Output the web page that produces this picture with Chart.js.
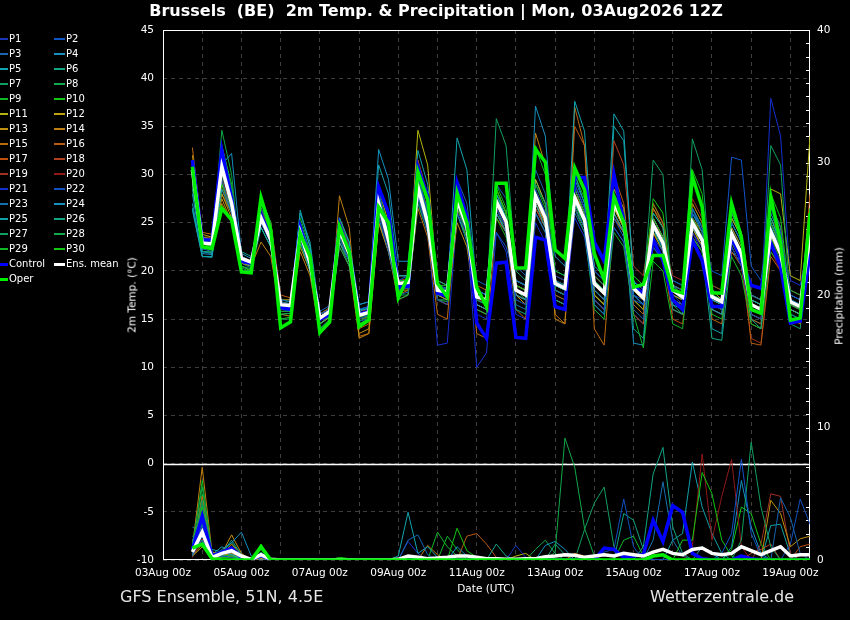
<!DOCTYPE html>
<html>
<head>
<meta charset="utf-8">
<title>Brussels GFS Ensemble</title>
<script src="https://cdn.jsdelivr.net/npm/chart.js@4.4.1/dist/chart.umd.min.js"></script>
<style>
  body { margin: 0; background: #000; font-family: 'DejaVu Sans', sans-serif; color: #fff; }
  #wrap { position: relative; width: 850px; height: 620px; overflow: hidden; background: #000; }
  #chart { position: absolute; left: 0; top: 0; }
  .txt { position: absolute; white-space: pre; }
  #title { left: 436px; top: 1px; transform: translateX(-50%); font-size: 16px; font-weight: bold; line-height: 20px; }
  #foot-left { left: 120px; top: 587px; font-size: 16px; line-height: 20px; color: #e6e6e6; }
  #foot-right { left: 650px; top: 587px; font-size: 16px; line-height: 20px; color: #e6e6e6; }
  #xtitle { left: 486px; top: 582px; transform: translateX(-50%); font-size: 10.5px; line-height: 13px; }
  .ytitle { font-size: 10.5px; line-height: 13px; transform: translate(-50%, -50%) rotate(-90deg); }
  #ytitle-left { left: 132px; top: 295px; }
  #ytitle-right { left: 839px; top: 296px; }
  .leg-line { position: absolute; }
  .leg-text { position: absolute; font-size: 10px; line-height: 14px; white-space: nowrap; }
</style>
</head>
<body>
<div id="wrap">
  <canvas id="chart" width="850" height="620"></canvas>
  <div class="txt" id="title">Brussels  (BE)  2m Temp. &amp; Precipitation | Mon, 03Aug2026 12Z</div>
  <div class="txt ytitle" id="ytitle-left">2m Temp. (°C)</div>
  <div class="txt ytitle" id="ytitle-right">Precipitation (mm)</div>
  <div class="txt" id="xtitle">Date (UTC)</div>
  <div class="txt" id="foot-left">GFS Ensemble, 51N, 4.5E</div>
  <div class="txt" id="foot-right">Wetterzentrale.de</div>
  <div id="legend"></div>
</div>
<script>
// forecast hours since 03Aug 00z (run 03Aug 12Z, 6-hourly steps)
const hours = [18,24,30,36,42,48,54,60,66,72,78,84,90,96,102,108,114,120,126,132,138,144,150,156,162,168,174,180,186,192,198,204,210,216,222,228,234,240,246,252,258,264,270,276,282,288,294,300,306,312,318,324,330,336,342,348,354,360,366,372,378,384,390,396];

const xTickLabels = ['03Aug 00z','05Aug 00z','07Aug 00z','09Aug 00z','11Aug 00z','13Aug 00z','15Aug 00z','17Aug 00z','19Aug 00z'];

const memberNames = ['P1','P2','P3','P4','P5','P6','P7','P8','P9','P10','P11','P12','P13','P14','P15',
  'P16','P17','P18','P19','P20','P21','P22','P23','P24','P25','P26','P27','P28','P29','P30'];

const memberColors = ['#1a35b8','#0f55c8','#1565b0','#1590c0','#10a5b0','#10a585','#10a060','#10a848','#10b828','#10c810',
  '#b5b510','#c0a010','#c09010','#c08010','#c06a10','#b85a10','#c05010','#b04020','#a03020','#901818',
  '#1530d0','#1050c0','#1570b0','#1590c0','#10a0a8','#10a585','#10a060','#10a848','#10b828','#10c810'];

const controlColor = '#0000ff';
const meanColor = '#ffffff';
const operColor = '#00ee00';

// 2m temperature (deg C)
const meanTemp = [30.5,22.9,22.8,30.8,27.0,21.3,20.9,25.5,23.2,16.5,16.4,24.0,20.8,15.1,15.8,24.2,21.8,15.4,15.7,27.0,23.2,18.7,18.8,28.7,25.0,18.0,17.8,27.4,24.6,17.3,17.0,27.2,25.1,18.0,17.5,27.8,25.5,18.7,18.2,27.6,25.3,18.7,17.7,27.0,25.0,18.2,17.2,24.8,22.9,18.0,17.3,25.0,23.2,17.3,16.8,23.9,21.8,16.5,16.0,24.1,21.8,16.8,16.3,23.8];
const controlTemp = [31.5,23.2,23.2,32.5,27.5,21,20.8,25.8,23.5,16.2,16,24.5,21,15,15.5,24.8,22,15.5,15.8,28.7,26,18.3,18.4,30.8,27.7,17.7,17.4,29.1,25.6,14.6,13,20.8,20.9,13.1,13,23.5,23.2,16.3,16,29.7,29.7,23,21,30,25,18.3,17.7,23.2,21.1,17,16,23.2,21.1,16.3,16.3,23.5,21.1,18.5,18.2,22.9,20.4,14.6,14.8,21.8];
const operTemp = [30.8,22.5,22.3,26.5,25.3,19.9,19.8,27.6,24.2,14.1,14.7,23.9,21.5,13.6,14.7,24.6,22,14.2,14.9,26.6,25,17.2,19.4,30.3,27.4,18.7,17.3,28.1,25,18.3,16.3,29.1,29.1,20.3,20.3,32.6,31.3,22.2,21.3,30.7,28.4,21.8,19.1,27.7,25,18.3,18.6,21.6,21.6,18,17.7,29.8,26.6,17.7,17.7,27,23.5,16,15.6,27.7,22.9,14.9,15.1,26];

const memberTemp = [
  [31,23,22.8,31.5,27.5,21,20.7,25,22.8,16,16.2,24.5,21,15.5,16,25,22,15,15.5,26,22.5,18,18.5,27.5,24,17,16.5,26,24,15.5,15,26.5,24.5,17,16.5,28.5,26,19.5,19,29,26.5,20,19,28,26,19,18,23.5,22,17.5,16.5,24,22.5,16.5,16,22.5,20.5,15.5,15,23,21,17,16.5,24.5],
  [30,22.5,22.3,30.5,26.5,21.5,21,26,23.5,17,16.8,23.5,20.5,14.8,15.5,23.5,21,16,16.3,28,24,19,19.5,30,26,18.5,18,28.5,25.5,18,17.5,24,22.5,19,18.5,26,24,18,17.5,26.5,24.5,17,16,25.5,23.5,17,16.5,25,23,18.5,18,26,24.5,20,19.5,31.8,31.5,20.5,19,26.5,24,17.5,17,25],
  [29.5,23.5,23.2,29.5,26,21.2,20.8,26.5,24.5,16.8,16.5,25,22,15.8,16.4,24,22.5,14.8,15,25.5,22,17.5,17.8,28,24.5,18.5,18.2,29.5,27,19,18.5,29,27.5,20.5,19.5,30.5,28,19,18.5,26,24,16.5,15.5,24.5,23,16,15,22.5,21,17,16.5,26.5,24,18,17.5,25,23,17.5,17,27,24.5,15.5,15,22],
  [28,22,21.8,31,32.2,21.8,21.3,25,23,16.2,16,23,20,15,15.5,23,21,16.5,16.8,32.6,29.5,21,21,29,26.5,18,17.5,26,23,16.5,16,26,24,17.5,17,37.1,34,21.5,20.5,30,27,18,17,26,24,17.5,16.5,23,21.5,16.5,16,24.5,23,17,16.5,24,22,16,15.5,26,23.5,17.5,17,26],
  [26.5,21.5,21.5,28.5,26,21,20.5,24.5,22.5,16.5,16.3,26.3,22.5,14.5,15.3,25.5,23,15.8,16.2,27,23.5,19.5,19.5,29,25.5,18.5,18,33.8,30.5,18,17.5,28,25.5,19,18.5,27,24.5,18.5,18,37.6,34.5,20,19,36.3,34.5,19,17.5,26,24.5,17,16,25,23,16,15.5,23,21.5,17,16.5,25.5,23,16,15.5,24],
  [30,23,22.6,31.5,28,22,21.5,25,23,16.5,16.5,24,21.5,15.5,16,24,21.5,16,16,27.5,24,18,18.5,28,25,19,18.5,27,24.5,17.5,17,27.5,25.5,16,15.5,26,24,17,16.5,27,25,16.5,15.5,27.5,25,14,13,24.5,22,16,15.5,26,24,17,16.5,26,23.5,15,14,24.5,22,17,16.5,25],
  [29,22,22,30,27,20.5,20.2,27,24.5,15.5,15.6,23.5,20.5,14,15,22.5,20.5,15,15.3,26.5,23,18.5,18.5,30,26,17.5,17.5,27,24,17,16.5,35.8,33,20,19,29,27,19,18.5,28.5,26,19.5,18.5,27,25,19,18,31.5,30,16.5,15.5,33.7,30.5,17.5,17,22.5,20.5,16,15.5,33,31,16.5,16,24.5],
  [30.5,22.5,22.5,34.6,30,20,20,27.5,25,15.8,15.8,25,22,15,15.8,24.5,22,15.5,15.8,26,23,17,17.5,27,24,17,16.8,26.5,24,16,15.5,28,25.5,18,17,28,25.5,18.5,18,27,24.5,19,18,27.5,25.5,18.5,17.5,25.5,23.5,18.5,17.5,25.5,23.5,17.5,17,23,21,17,16.5,25,22.5,18,17.5,24.5],
  [31.5,23.2,23,33,28.5,21.5,21,24.5,22.5,15,15.2,23,20,13.8,14.5,23.5,21,14.5,15,28,24.5,19,19,27.5,24.5,18.5,18.5,26,23.5,18,17.5,25.5,23.5,19,18.5,32.8,30,20,19.5,26.5,24,16,15,24,22.5,15.5,12,21,20,14.5,14,23.5,22,15.5,15,21.5,19.5,14.5,14,22,20.5,15.5,15,23],
  [30,22.8,22.5,29,26.5,20.5,20,26,24,17,16.8,24.5,21.5,15.5,16,24.5,22,15.2,15.5,27,23.5,18.5,18.8,29.5,26,17.5,17.5,27.5,25,17.5,17,28.5,26,18.5,18,28,25.5,18,17.5,27,25,19,18,28,26,19.5,18.5,27.5,26,18,17.5,25,23,16.5,16,24,22,16,15.5,23.5,21,17,16.5,26.5],
  [30,23.5,23.3,29,26.5,21.5,21,25.5,23.5,17,17,24,21,15.5,16,24,21.5,15.5,15.8,28.5,25,18.5,18.5,34.6,31,18,17.5,26,23.5,16.5,16,27,25,17.5,17,29.5,27,18,17.5,27,25,17.5,16.5,26.5,24.5,18,17,25.5,23.5,18.5,18,24.5,22.5,18,17,23,21,16.5,16,28.5,28,19.5,19,34],
  [31.5,23.8,23.5,28,25.5,21,20.5,26,24,16,16,22.5,20,14.5,15.2,24.5,22,15.2,15.5,26.5,23,19,19,28,25,17.5,17,27,24,17.5,17,27,25,18,17.5,27,25,18.5,18,28.5,26,19,18,26,24,18,17,24,22,17.5,17,24.5,22.5,17,16.5,25.5,23.5,17,16.5,24,22,16,15.5,22],
  [32,23.5,23,27.5,25,20.5,20,25,23,16.5,16.2,24,21,15.5,16,23,21,13.5,14,25,22,17,17.5,27.5,24.5,17,16.5,25,22.5,16,15.5,27.5,25.5,17.5,16.5,28,25.5,17,16.5,26.5,24.5,18.5,17.5,26.5,24.5,17,16,25.5,23.5,18.5,18,25.5,23.5,16.5,16,24.5,22.5,15.5,15,25,22.5,16.5,16,22.5],
  [30.5,23,22.8,27,25,20.8,20.5,23,21.5,15.5,15.3,22,19.5,13.5,14.5,27.8,24.5,13,13.5,25,22,18,18,29,26,18,18,28,25,17.5,17,28.5,26,19,18.5,34.3,31,15,14.5,28,26,17.5,16.5,28.5,26.5,18.5,17.5,26.5,24.5,17,16.5,25.5,24,18,17.5,26,24,17.5,17,27,24.5,16.5,16,25],
  [32.8,24,23.8,28,26,21,20.5,25.5,23.5,16,16,23.5,20.5,15,15.5,22.5,20.5,13.2,13.5,26,23,17.5,18,26.5,23.5,15.5,15,26.5,24,13.5,13,25.5,24,16,15,26,24,15.5,14.5,37,33,14,12.3,25.5,24,16.5,15.5,24,22,16,15.5,27,25,15,14.5,24,22,14.5,14,23.5,21.5,15,14.5,23],
  [31,23.5,23.5,28.5,26,21.3,21,27,25,17.5,17.2,24.5,21.5,15,15.7,23.5,21.5,14,14.5,27.5,24.5,19.5,19.5,31.5,28,19,18.5,28,25.5,18.5,18,26,24,18.5,18,27,24.5,18,17.5,35,33,19.5,18.5,30,27,18,17,27,25,18,17.5,25,23,17,16.5,24,22,12.5,12.3,21.5,20,16,15.5,28],
  [29,22.8,22.5,29.5,26.5,21.5,21,25,23,16.8,16.5,24.5,21,15.5,16.2,24.5,22,15.5,15.8,26,23,18,18.3,28.5,25,17,16.5,27.5,25,16.5,16,27,25,17.5,17,27.5,25.5,18.5,18,26.5,24.5,17,16,25.5,24,15.5,14.5,23,21.5,15,14.5,23.5,22,16,15.5,22,20.5,15,14.5,25.5,23.5,18,17.5,25.5],
  [30,23,22.8,30.5,27,21,20.6,25.5,23,16.3,16.2,24,21,15.3,15.8,25.5,22.5,15,15.2,27.5,24,18.5,18.5,29.5,26.5,18.5,18,29,26,17.5,17,27.5,25.5,18.5,18,26.5,24.5,17.5,17,28.5,26,19,18,33.5,31,20.5,19.5,26.5,25,17,16.5,24,22.5,16.5,16,23.5,21.5,16.5,16,24,21.5,16,15.5,24],
  [29.5,22.5,22.3,29,26,21.5,21,26.5,24,16.5,16.4,24,20.5,14.5,15.5,24.5,21.5,15.8,16,26,22.5,19,19.2,28,25,18,18,26.5,24,17.5,17,26.5,24.5,18,17.5,26.5,24.5,19,18.5,26.5,24.5,18,17,25.5,24,18,17,25,23.5,19.5,19,27.5,25.5,18.5,18,22.5,20.5,13,12.5,22,20.5,16,15.5,23],
  [30,23,22.8,30,26.5,21,20.8,26,23.5,16.5,16.5,24.5,21.5,15.5,16,24,21.5,15.5,15.8,27,23.5,19,19,28.5,25.5,18.5,18,27.5,25,17,16.8,27.5,25,18,17.5,27.5,25,19.5,19,27.5,25,19.5,18.5,26.5,24.5,19,18,24.5,23,18.5,18,24.5,22.5,17.5,17,23.5,21.5,17,16.5,22,20,17.5,17,24.5],
  [31.5,23.2,23,32,28,21.2,20.8,25,23,16.5,16.2,23.5,20.5,15,15.5,24,21.5,15.5,15.8,27,23,18.5,18.5,28,24.5,12.3,12.5,26,24,10,11.5,24,22,15.5,15,25,23,17,16.5,25.5,23.5,17,16,24.5,23,15.5,14.5,22.5,21,16,15.5,24,22,16,15.5,23,21,16.5,16,37.9,34,19,18.5,24],
  [30.5,23,22.7,30.5,28.5,21,20.5,25.5,23.5,16,15.9,24,21,15,15.6,24.5,22,15.5,15.9,27.5,23.5,18.5,18.8,29,25.5,17.5,17,28,25,17,16.5,27,25,17.5,17,28,25.5,18.5,18,27.5,25,18,17,26.5,24.5,17.5,17,25,23,19,18.5,26,24,17.5,17,24.5,22.5,16,15.5,24.5,22.5,16.5,16,23],
  [29,22.3,22,31,27.5,21,20.5,25.5,23.5,16.5,16.3,24,21,15.5,16,24,21.5,16,16.3,26.5,23,18.5,18.5,28.5,25,17.5,17,27,24.5,17,16.5,26.5,24.5,16.5,16,27,25,18,17.5,29,26.5,18.5,17.5,27,25,17.5,16.5,24,22.5,18.5,17.5,24.5,22.5,16,15.5,23,21,17.5,17,24,22,17,16.5,24],
  [27,21.8,21.7,29.5,26,21.5,21,26.5,24,17,16.8,25,22,15.5,16.2,25,23,16.5,16.8,27.5,24,19.5,19.5,29,26,18.5,18,28,25.5,18,17.5,28,26,19,18.5,29.5,27,20,19.5,29,26.5,20.5,19.5,28.5,26.5,12.5,12.3,24,23,18,17,26.5,24.5,18,17.5,25,23,17.5,17,25,23,17.5,17,24.5],
  [26.3,21.5,21.4,30,27.5,21.3,20.8,25,23,16.5,16.5,26,23,15.5,16,24,22,16,16.3,31,28,19.5,19.5,32.5,29,19,18.5,28.5,26,18,17.5,26,24,18.5,18,26.5,24.5,19,18.5,29.5,27,16.5,15.5,35,33.5,19,18,25,23.5,17.5,17,26.5,24.5,14,13.5,25.5,23.5,15,14.5,25,22.5,17,16.5,25],
  [28.5,22.5,22.3,31.5,28,20.8,20.3,25.5,23.5,16.8,16.6,24,21,15.2,15.8,23.5,21,15.5,15.8,26.5,23,18.5,18.7,28,24.5,18,18,27.5,25,17.5,17,26.5,24.5,18.5,18,28.5,26,19,18.5,27,25,19,18,26.5,24.5,19.5,18.5,24.5,23,19,18.5,23.5,22,13,12.8,22,21,15.5,15,23.5,21.5,15.5,15,22.5],
  [30,22.5,22.4,30,27,20.3,19.9,24.5,22.5,15,15,23,20,14,14.8,23,20.5,14.5,15,25.5,22,17.5,17.5,27,24,17,17,26,23.5,16.5,16,26.5,24,17,16.5,27.5,25,18.5,18,28,25.5,18,17,26,24,18.5,17.5,24.5,22.5,18,17.5,25.5,23.5,17,16.5,24,22,16.5,16,24.5,22,14.5,14,23.5],
  [29.5,22,21.9,29,26,20.5,20,26,24,16,15.9,25,22,14.5,15.2,24.5,22,15,15.3,28,24.5,18,18.2,29,25.5,18,18,27,24.5,17.5,17,27,25,18,17.5,28,25.5,19.5,19,28.5,26,19,18,27,25,17,16,25.5,23.5,17.5,17,25,23,18.5,18,24.5,22.5,17.5,17,24.5,22.5,16.5,16,23.5],
  [30.8,22.8,22.6,33,29,20,19.8,26.5,24,15.5,15.6,25.5,22.5,14.5,15.2,25,22.5,14.8,15.2,27.5,24,18,18.5,30.5,27,17.5,17.5,28.5,25.5,17,16.5,29,26.5,18,17.5,29,26.5,17.5,17,28,25.5,17.5,16.5,27.5,25.5,17,16,27,25,17,16.5,27,25,17.5,17,25,23,17,16.5,25.5,23,16,15.5,23],
  [30.5,22.5,22.3,32,28.5,20,19.8,27.5,25,16,16,24.5,21.5,14,14.8,25.5,23,15,15.4,27.5,24,19,19,29.5,26,18,17.5,28.5,25.5,17.5,17,28.5,26,18.5,18,33,31,19,18.5,30,27.5,18,17,28,26,19,18,26,24.5,18,17.5,30.5,28,17.5,17,25.5,23.5,17,16.5,28,25.5,17,16.5,26.5]
];

// 6-hourly precipitation (mm)
const meanPrecip = [0.6,2.1,0.2,0.5,0.7,0.3,0.05,0.4, 0.05,0,0,0,0,0,0,0.02, 0,0,0,0,0,0.05,0.3,0.2, 0.1,0.15,0.2,0.3,0.3,0.2,0.1,0.1, 0.05,0.05,0.1,0.1,0.25,0.3,0.4,0.35, 0.2,0.3,0.4,0.3,0.5,0.4,0.3,0.6, 0.8,0.5,0.4,0.8,0.9,0.5,0.4,0.5, 1.0,0.7,0.4,0.7,1.0,0.3,0.4,0.4];
const controlPrecip = [0.8,3.3,0.3,0.6,0.9,0.2,0,0.4, 0,0,0,0,0,0,0,0, 0,0,0,0,0,0,0,0, 0,0,0,0,0,0,0,0, 0,0,0,0,0,0,0,0, 0,0,0.9,0.8,0.2,0.3,0.4,3.0, 1.4,4.1,3.6,0.5,0.1,0,0,0, 0.3,0.1,0,0,0,0,0,0];
const operPrecip = [0.9,1.2,0.1,0,0,0,0,1.0, 0,0,0,0,0,0,0,0, 0,0,0,0,0,0,0,0, 0,0,0,0,0,0,0,0, 0,0,0,0,0,0,0,0, 0,0,0,0,0,0,0,0.3, 0.4,0,0,0,0,0,0,0, 0,0,0,0,0,0,0,0];

const memberPrecip = [
  [0.5,2.5,0.3,0.4,0.6,0.2,0,0.2, 0,0,0,0,0,0,0,0, 0,0,0,0,0,0,0,0, 0,0,0,0,0,0,0,0, 0,1.1,0.2,0,0,0,0,0, 0,0,0,0,0,0,0,0, 0,0,0,0,0,0,0,0, 0,0,0,0,0,0,0,0],
  [0.3,1.8,0.2,0.3,0.2,0,0,0.3, 0,0,0,0,0,0,0,0, 0,0,0,0,0,0,0,0, 0,0,0,0,0,0,0,0, 0,0,0,0,0,0,0,0, 0,0,0,0,0,0,0,0, 0,0,0,0,0,0,0.5,2.0, 7.6,2.0,0.3,0,0,0,0,0],
  [1.5,2.8,0.4,0.5,1.0,0.3,0,0.2, 0,0,0,0,0,0,0,0, 0,0,0,0,0,0,1.5,1.9, 0.4,0,0,0,0,0,0,0, 0,0,0,0,0,0,0,0, 0,0,0,0,0,0,0,0, 0,0,0,0,0,0,0,0, 0,0,0,0,4.7,3.2,0.5,0],
  [0.6,1.5,0.2,0.8,1.3,2.1,0.3,0, 0,0,0,0,0,0,0,0, 0,0,0,0,0,0,0,0, 0,0,0,1.0,0.3,0,0,0, 0,0,0,0,0,0,0,0, 0,0,0,0,0,0,0,0, 0,0,0,0,0,0,0,0, 0,0,0,0,0,0,0,0],
  [0.9,2.0,0.8,0.6,0.4,0.1,0,0.3, 0,0,0,0,0,0,0,0, 0,0,0,0,0,0.3,3.6,0.5, 1.0,0.2,0,0,0,0,0,0, 0,0,0,0,0,0,0,0, 0,0,0,0,0,0,0,0, 0,0,0,0,1.0,0.5,0,0, 0,0,0,0,0,0,0,0],
  [0.4,3.5,0.3,0.5,1.5,0.4,0,0.5, 0,0,0,0,0,0,0,0, 0,0,0,0,0,0,0,0, 0,0,0,0,0,0,0,1.2, 0.3,0,0,0,0,0,0,0, 0,0,0,0,0,0,1.0,6.5, 8.5,2.5,0.5,0,0,0,0,0, 0,0,0,0,0,0,0,0],
  [0.7,4.5,0.2,0.3,0.8,0.2,0,0.3, 0,0,0,0,0,0,0,0, 0,0,0,0,0,0,0,0, 0,0,0,0,0,0,0,0, 0,0,0,0,0,0,0,0, 0,0,0,0,0,0,0,0, 0,0,0,0,0,0,0,0, 1.5,8.9,4.0,1.0,0,0,0,0],
  [1.2,5.5,0.5,0.2,0.4,0.1,0,0.6, 0,0,0,0,0,0,0,0, 0,0,0,0,0,0,0,0, 0,0,0,0,0,0,0,0, 0,0,0,0,0,0.6,9.2,7.0, 2.4,0.3,0,0,0,0,0,0, 0,0,0,0,0,0,0,0, 0,0,0,0,0,0,0,0],
  [0.8,6.0,0.4,0.4,0.3,0,0,0.8, 0,0,0,0,0,0,0,0, 0,0,0,0,0,0,0,0, 0,2.1,1.0,0.3,0,0,0,0, 0,0,0,0,0,0,0,0, 0,0,0,0,0,0,0,0, 0,0,0,0,0,0,0,0, 0,0,0,0,0,0,0,0],
  [0.5,4.0,0.3,0.2,0.2,0,0,1.1, 0,0,0,0,0,0,0,0.2, 0.1,0,0,0,0,0,0,0, 0,0,0,2.4,0.7,0.2,0,0, 0,0,0,0,0,0,0,0, 0,0,0,0,0,0,0,0, 0,0,1.5,1.5,6.6,5.0,1.5,0.3, 0,0,0,0,0,0,0,0],
  [0.3,1.0,0.1,0.2,0.3,0,0,0.1, 0,0,0,0,0,0,0,0, 0,0,0,0,0,0,0,0, 0,0,0,0,0,0,0,0, 0,0.3,0.5,0,0,0,0,0, 0,0,0,0,0,0,0,0, 0,0,0,0,0,0,0,0, 0,0,0,0,0,0,0,0],
  [0.4,2.2,0.2,0.3,0.5,0.2,0,0.2, 0,0,0,0,0,0,0,0, 0,0,0,0,0,0,0,0, 0,0,0,0,0,0,0,0, 0,0,0,0,0,0,0,0, 0,0,0,0,0,0,0,0, 0,0,0,0,0,0,0,0, 0,0,0,0,0,0,0,0],
  [0.6,3.0,0.3,0.5,1.9,0.5,0,0.3, 0,0,0,0,0,0,0,0, 0,0,0,0,0,0,0,0, 0,0,0,0,0,0,0,0, 0,0,0,0,0,0,0,0, 0,0,0,0,0,0,0,0, 0,0,0,0,0,0,0,0, 0,0,0,4.5,3.5,1.0,1.6,1.8],
  [1.0,7.0,0.6,0.4,1.2,0.3,0,0.2, 0,0,0,0,0,0,0,0, 0,0,0,0,0,0,0,0, 1.1,0.4,0,0,0,0,0,0, 0,0,0,0,0,0,0,0, 0,0,0,0,0,0,0,0, 0,0,0,0,0,0,0,0, 0,0,0,0,0,0,0,0],
  [0.4,4.8,0.3,0.3,0.6,0.1,0,0.2, 0,0,0,0,0,0,0,0, 0,0,0,0,0,0,0,0, 0,0,0,0,0,0,0,0, 0,0,0,0,0,0,0,0.5, 0.3,0,0,0,0,0,0,0, 0,0,0,0,0,0,0,0, 0,0,0,0,0,0,0,0],
  [0.5,2.0,0.2,0.2,0.4,0,0,0.1, 0,0,0,0,0,0,0,0, 0,0,0,0,0,0,0,0, 0,0,0,0,1.8,2.0,1.2,0.2, 0,0,0,0,0,0,0,0, 0,0,0,0,0,0,0,0, 0,0,0,0,0,0,0,0, 0,0,0,0,0,0,0,0],
  [0.3,1.2,0.1,0.6,0.8,0.2,0,0, 0,0,0,0,0,0,0,0, 0,0,0,0,0,0,0,0, 0,0,0,0,0,0,0,0, 0,0,0,0,0,0,0,0, 0,0,0,0,0,0,0,0, 0,0,0,0,0,0,0,0, 0,0,0,0,0,0,1.0,1.2],
  [0.7,3.8,0.4,0.5,0.9,0.3,0,0.2, 0,0,0,0,0,0,0,0, 0,0,0,0,0,0,0,0, 0,0,0,0,0,0,0,0, 0,0,0,0,0,0,0,0, 0,0,0,0,0,0,0,0, 0,0,0,0,0,0,0,0, 0,0.5,0.8,1.2,0,0,0,0],
  [0.2,1.6,0.2,0.3,0.2,0,0,0.1, 0,0,0,0,0,0,0,0, 0,0,0,0,0,0,0,0, 0,0,0,0,0,0,0,0, 0,0,0,0,0,0,0,0, 0,0,0,0,0,0,0,0, 0,0,0,0,0,0,0,0, 0,0,1.2,5.0,4.8,0.5,0,0],
  [0.4,2.4,0.2,0.2,0.3,0.1,0,0.1, 0,0,0,0,0,0,0,0, 0,0,0,0,0,0,0,0, 0,0,0,0,0,0,0,0, 0,0,0,0,0,0,0,0, 0,0,0,0,0,0,0,0, 0,0,0,1.0,8.0,1.5,4.8,7.6, 1.0,0,0,0,0,0,0,0],
  [0.6,3.0,0.5,0.3,0.5,0.2,0,0.4, 0,0,0,0,0,0,0,0, 0,0,0,0,0,0,1.4,0.5, 0,0,0,0,0,0,0,0, 0,0,0,0,0,0,0,0, 0,0,0,0,0,0,0,0, 0,0,0,0,0,0,0,0, 0,0,0,0,0,0,0,0],
  [0.8,1.4,0.2,0.4,0.7,0.1,0,0.3, 0,0,0,0,0,0,0,0, 0,0,0,0,0,0,0,0, 0,0,0,0,0,0,0,0, 0,0,0,0,0,0,0,0, 0,0,0.6,0.8,4.6,1.0,0,0, 0,0,0,0,0,0,0,0, 0,0,0,0,0,1.2,4.6,2.7],
  [2.5,2.0,0.3,0.3,0.6,0.3,0,0.2, 0,0,0,0,0,0,0,0, 0,0,0,0,0,0,0,0, 0,0,0,0,0,0,0,0, 0,0,0,0,0,0,0,0, 0,0,0,0,0,0,0,1.5, 5.9,1.5,0.3,0,0,0,0,0, 0,0,0,0,0,0,0,0],
  [1.8,1.2,0.6,0.5,0.4,0.2,0,0.2, 0,0,0,0,0,0,0,0, 0,0,0,0,0,0,0,0, 0,0,0,0,0,0,0,0, 0,0,0,0,1.1,1.4,0.8,0, 0,0,0,0,0,0,0,0, 0,0,0,0,0,0,0,1.0, 6.0,2.5,0.5,0,0,0,0,0],
  [0.6,2.6,0.4,1.0,0.6,0.2,0,0.4, 0,0,0,0,0,0,0,0, 0,0,0,0,0,0,0,0, 0,0,0,0,0,0,0,0, 0,0,0,0,0,0,0,0, 0,0,0,0,0,0,0,0, 0,1.5,2.0,7.4,4.0,2.0,0.5,0, 0,0,0,2.6,2.7,0.4,0,0],
  [1.4,3.2,0.3,0.6,1.3,0.4,0,0.3, 0,0,0,0,0,0,0,0, 0,0,0,0,0,0,0,0, 0,0,0,0,0,0,0,0, 0,0,0,0,0,1.2,0.4,0, 0,0,0,0,3.5,3.0,0.8,0, 0,0,0,0,0,0,0,0, 0,0,0,0,0,0,0,0],
  [0.5,4.2,0.3,0.2,0.3,0,0,0.5, 0,0,0,0,0,0,0,0, 0,0,0,0,0,0,0,0, 0,0,0,0,0,0,0,0, 0,0,0,0,0,0,0,0, 2.3,4.3,5.5,1.0,0.2,0,0,0, 0,0,0,0,0,0,0,0, 0,0,0,0,0,0,0,0],
  [0.3,2.8,0.2,0.3,0.4,0.1,0,0.4, 0,0,0,0,0,0,0,0, 0,0,0,0,0,0,0,0, 0,0,0,0,0,0,0,0, 0,0,0,0.8,1.5,0.5,0,0, 0,0,0,0,0,0,0,0, 0,0,0,0,0,0,0,0, 0,0,0,0,0,0,0,0],
  [0.6,5.0,0.4,0.3,0.5,0.2,0,0.9, 0,0,0,0,0,0,0,0, 0,0,0,0,0,0,0,0, 0,0,1.8,0.8,0,0,0,0, 0,0,0,0,0,0,0,0, 0,0,0,0,1.5,1.8,0.3,0, 0,0,0,0,0,0,0,0, 0,0,0,0,0,0,0,0],
  [0.4,3.6,0.2,0.2,0.3,0,0,1.2, 0,0,0,0,0,0,0,0, 0,0,0,0,0,0,0,0, 0,0,0,0,0,0,0,0, 0,0,0,0,0,0,0,0, 0,0,0,0,0,0,0,0, 0,0,0,0,0,0,0,0.8, 4.0,3.5,1.2,0,0,0,0,0]
];

Chart.defaults.font.family = "'DejaVu Sans', sans-serif";
Chart.defaults.color = '#ffffff';

function points(values) {
  return hours.map((h, i) => ({ x: h, y: values[i] }));
}

function series(values, color, width, axis, order) {
  return {
    data: points(values),
    yAxisID: axis,
    borderColor: color,
    backgroundColor: color,
    borderWidth: width,
    pointRadius: 0,
    fill: false,
    tension: 0,
    order: order
  };
}

const datasets = [];
// highlighted lines first so they end up on top (lower order is drawn last)
datasets.push(series(operTemp, operColor, 3.5, 'y', 1));
datasets.push(series(meanTemp, meanColor, 3.5, 'y', 2));
datasets.push(series(controlTemp, controlColor, 3.5, 'y', 3));
datasets.push(series(operPrecip, operColor, 3.5, 'y2', 1));
datasets.push(series(meanPrecip, meanColor, 3.5, 'y2', 2));
datasets.push(series(controlPrecip, controlColor, 3.5, 'y2', 3));
memberTemp.forEach((row, i) => datasets.push(series(row, memberColors[i], 1, 'y', 10)));
memberPrecip.forEach((row, i) => datasets.push(series(row, memberColors[i], 1, 'y2', 10)));

// frame, zero line and the small inward ticks of the precipitation axis
const framePlugin = {
  id: 'frame',
  beforeDatasetsDraw(chart) {
    const { ctx, chartArea: a, scales } = chart;
    ctx.save();
    ctx.strokeStyle = '#ffffff';
    ctx.lineWidth = 1;
    ctx.strokeRect(a.left + 0.5, a.top + 0.5, a.right - a.left - 1, a.bottom - a.top - 1);
    const y0 = Math.round(scales.y.getPixelForValue(0)) + 0.5;
    ctx.lineWidth = 1.5;
    ctx.beginPath();
    ctx.moveTo(a.left, y0);
    ctx.lineTo(a.right, y0);
    ctx.stroke();
    ctx.lineWidth = 1;
    for (let v = 1; v < 40; v++) {
      const py = Math.round(scales.y2.getPixelForValue(v)) + 0.5;
      ctx.beginPath();
      ctx.moveTo(a.right - 4, py);
      ctx.lineTo(a.right, py);
      ctx.stroke();
    }
    ctx.restore();
  }
};

const gridColor = '#3e3e3e';

new Chart(document.getElementById('chart'), {
  type: 'line',
  data: { datasets: datasets },
  options: {
    responsive: false,
    animation: false,
    devicePixelRatio: 1,
    events: [],
    layout: { padding: { left: 118, right: 0, top: 30, bottom: 40 } },
    plugins: { legend: { display: false }, tooltip: { enabled: false } },
    scales: {
      x: {
        type: 'linear',
        min: 0,
        max: 396,
        afterFit: s => { s.height = 20; },
        afterBuildTicks: s => {
          const t = [];
          for (let h = 0; h <= 384; h += 24) t.push({ value: h });
          s.ticks = t;
        },
        ticks: {
          color: '#ffffff',
          font: { size: 10.5 },
          padding: 7,
          maxRotation: 0,
          autoSkip: false,
          callback: v => (v % 48 === 0 ? xTickLabels[v / 48] : '')
        },
        grid: { color: gridColor, drawTicks: false },
        border: { display: false, dash: [4, 4] }
      },
      y: {
        position: 'left',
        min: -10,
        max: 45,
        afterFit: s => { s.width = 45; },
        ticks: { stepSize: 5, color: '#ffffff', font: { size: 10.5 }, padding: 9 },
        grid: { color: gridColor, drawTicks: false },
        border: { display: false, dash: [4, 4] }
      },
      y2: {
        position: 'right',
        min: 0,
        max: 40,
        afterFit: s => { s.width = 40; },
        ticks: { stepSize: 10, color: '#ffffff', font: { size: 10.5 }, padding: 7 },
        grid: { drawOnChartArea: false, drawTicks: false },
        border: { display: false }
      }
    }
  },
  plugins: [framePlugin]
});

// legend in two columns on the left
const legend = document.getElementById('legend');
const legendItems = memberNames.map((n, i) => ({ name: n, color: memberColors[i], w: 2 }))
  .concat([
    { name: 'Control', color: controlColor, w: 3 },
    { name: 'Ens. mean', color: meanColor, w: 3 },
    { name: 'Oper', color: operColor, w: 3 }
  ]);
legendItems.forEach((it, i) => {
  const col = i % 2;
  const row = Math.floor(i / 2);
  const cy = 39 + row * 15;
  const x = col ? 54 : -3;
  const line = document.createElement('div');
  line.className = 'leg-line';
  line.style.left = x + 'px';
  line.style.top = (cy - it.w / 2) + 'px';
  line.style.width = '11px';
  line.style.height = it.w + 'px';
  line.style.background = it.color;
  legend.appendChild(line);
  const label = document.createElement('div');
  label.className = 'leg-text';
  label.style.left = (x + 12) + 'px';
  label.style.top = (cy - 7) + 'px';
  label.textContent = it.name;
  legend.appendChild(label);
});
</script>
</body>
</html>
